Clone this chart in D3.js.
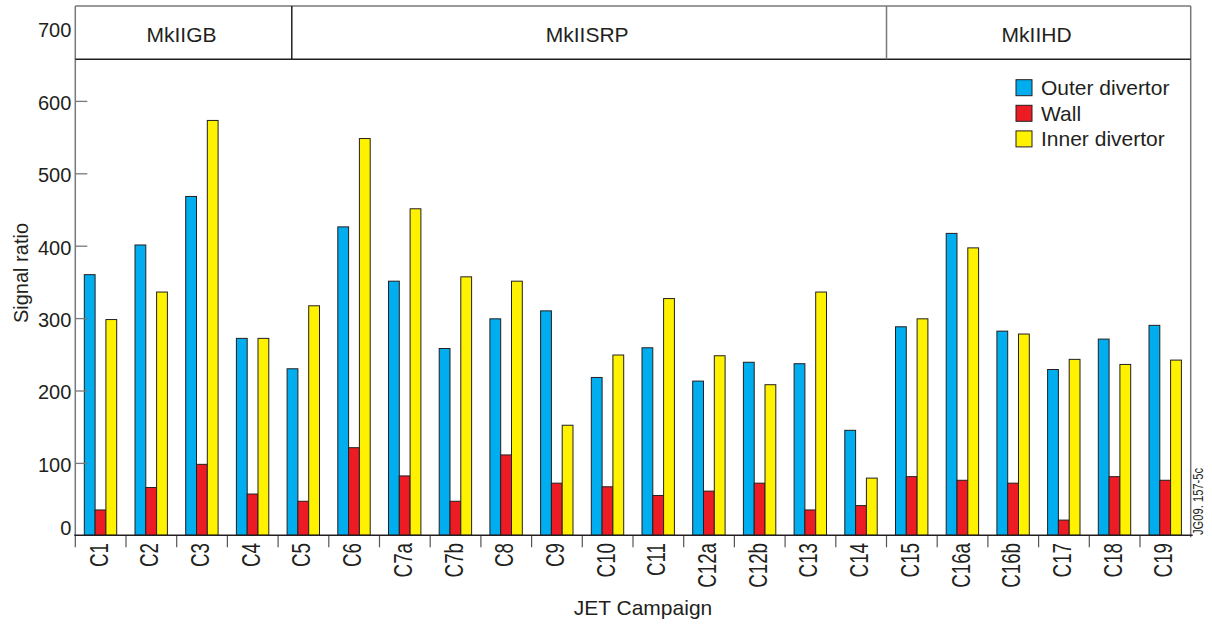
<!DOCTYPE html>
<html><head><meta charset="utf-8">
<script src="https://cdn.jsdelivr.net/npm/d3@7"></script>
<style>html,body{margin:0;padding:0;background:#fff;}svg{display:block;font-family:"Liberation Sans",Arial,Helvetica,sans-serif;}</style>
</head><body>
<svg id="chart" width="1212" height="625"></svg>
<script>
const categories = ["C1","C2","C3","C4","C5","C6","C7a","C7b","C8","C9","C10","C11","C12a","C12b","C13","C14","C15","C16a","C16b","C17","C18","C19"];
const seriesNames = ["Outer divertor","Wall","Inner divertor"];
const outerDivertor = [360,401,468,272,230,426,351,258,299,310,218,259,213,239,237,145,288,417,282,229,271,290];
const wall = [35,66,98,57,47,121,82,47,111,72,67,55,61,72,35,41,81,76,72,21,81,76];
const innerDivertor = [298,336,573,272,317,548,451,357,351,152,249,327,248,208,336,79,299,397,278,243,236,242];
const yTicks = [0,100,200,300,400,500,600,700];
const groupNames = ["MkIIGB","MkIISRP","MkIIHD"];
const groupBreaks = [0, 4.27, 16, 22]; // in category-band units
const colors = ["#00adee","#ed1c24","#fff200"];

const ink = "#231f20", gray = "#77787b";
const L = 75.3, R = 1190.7, B = 535.3, T = 6, HB = 59.3;
const svg = d3.select("#chart");

const x0 = d3.scaleBand().domain(categories).range([L, R]).paddingInner(0).paddingOuter(0);
const bw = x0.bandwidth();
const x1 = d3.scaleBand().domain(seriesNames).range([bw*0.1775, bw*0.8166]);
const y = d3.scaleLinear().domain([0,700]).range([B, 28.5]);
const bandPos = d3.scaleLinear().domain([0, categories.length]).range([L, R]);

const data = categories.map((c,i)=>({cat:c, vals:[outerDivertor[i], wall[i], innerDivertor[i]]}));

// bars
const g = svg.append("g");
g.selectAll("g.cat").data(data).join("g")
  .attr("transform", d=>`translate(${x0(d.cat)},0)`)
  .selectAll("rect").data(d=>d.vals.map((v,k)=>({k, v})))
  .join("rect")
  .attr("x", d=>x1(seriesNames[d.k]))
  .attr("width", x1.bandwidth())
  .attr("y", d=>y(d.v))
  .attr("height", d=>B - y(d.v))
  .attr("fill", d=>colors[d.k])
  .attr("stroke", ink).attr("stroke-width", 1);

// y axis
const yAxis = d3.axisRight(y).tickValues(yTicks).tickSize(12).tickFormat(d3.format("d"));
const ya = svg.append("g").attr("transform",`translate(${L},0)`).call(yAxis);
ya.select(".domain").remove();
ya.selectAll(".tick line").attr("stroke", gray).attr("stroke-width",1.3)
  .filter(d=>d===0||d===700).remove();
ya.selectAll(".tick text").attr("x",-4).attr("text-anchor","end")
  .attr("font-size",20).attr("fill",ink).attr("dy", d=> d===0 ? "-0.05em" : "0.42em");

// x ticks
svg.append("g").selectAll("line").data(d3.range(0, categories.length))
  .join("line").attr("x1", i=>bandPos(i)).attr("x2", i=>bandPos(i))
  .attr("y1", B).attr("y2", B+12).attr("stroke", "#555").attr("stroke-width",1.2);

// x labels
svg.append("g").selectAll("text").data(categories).join("text")
  .attr("transform", d=>`translate(${x0(d)+bw/2-2},543) rotate(-90) scale(0.75,1)`)
  .attr("text-anchor","end").attr("dy","0.36em")
  .attr("font-size",25).attr("fill",ink).text(d=>d);

// frame
svg.append("line").attr("x1",L).attr("x2",L).attr("y1",T).attr("y2",B).attr("stroke",gray).attr("stroke-width",1.5);
svg.append("line").attr("x1",R).attr("x2",R).attr("y1",T).attr("y2",B+2).attr("stroke",gray).attr("stroke-width",1.5);
svg.append("line").attr("x1",L).attr("x2",R).attr("y1",T).attr("y2",T).attr("stroke",gray).attr("stroke-width",1.5);
svg.append("line").attr("x1",L).attr("x2",R).attr("y1",HB).attr("y2",HB).attr("stroke",ink).attr("stroke-width",1.5);
svg.append("line").attr("x1",L-1).attr("x2",R+2).attr("y1",B).attr("y2",B).attr("stroke",ink).attr("stroke-width",1.5);

// header groups
const hdr = svg.append("g");
groupNames.forEach((n,i)=>{
  const a = bandPos(groupBreaks[i]), b = bandPos(groupBreaks[i+1]);
  if (i>0) hdr.append("line").attr("x1",a).attr("x2",a).attr("y1",T).attr("y2",HB)
     .attr("stroke", i===1 ? ink : gray).attr("stroke-width",1.5);
  hdr.append("text").attr("x",(a+b)/2 - 2).attr("y",(T+HB)/2+2).attr("dy","0.35em")
     .attr("text-anchor","middle").attr("font-size",21).attr("fill",ink).text(n);
});

// legend
const lg = svg.append("g");
seriesNames.forEach((n,i)=>{
  const cy = 87.7 + i*25.6;
  lg.append("rect").attr("x",1016).attr("y",cy-8).attr("width",16).attr("height",16)
    .attr("fill",colors[i]).attr("stroke",ink).attr("stroke-width",1);
  lg.append("text").attr("x",1041).attr("y",cy).attr("dy","0.36em")
    .attr("font-size",21).attr("fill",ink).text(n);
});

// axis titles
svg.append("text").attr("transform","translate(28,273) rotate(-90)")
  .attr("text-anchor","middle").attr("font-size",20).attr("fill",ink).text("Signal ratio");
svg.append("text").attr("x",643).attr("y",615).attr("text-anchor","middle")
  .attr("font-size",21).attr("fill",ink).text("JET Campaign");

// figure id
svg.append("text").attr("transform","translate(1203,535) rotate(-90) scale(0.8,1)")
  .attr("text-anchor","start").attr("font-size",14).attr("fill",ink).text("JG09. 157-5c");
</script>
</body></html>
